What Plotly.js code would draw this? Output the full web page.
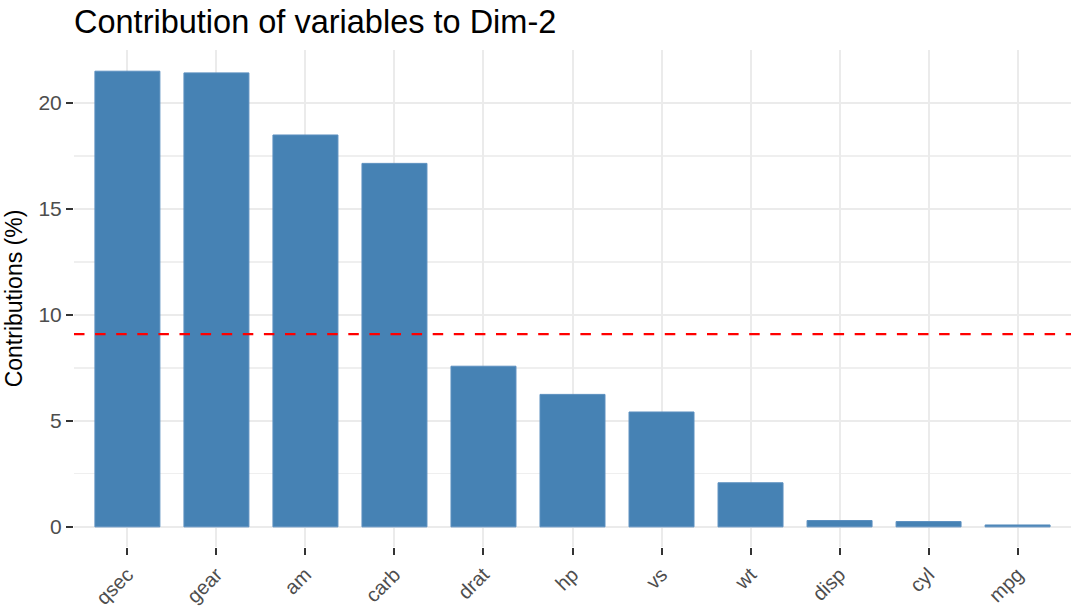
<!DOCTYPE html>
<html>
<head>
<meta charset="utf-8">
<script src="https://cdn.plot.ly/plotly-3.0.1.min.js"></script>
<style>html,body{margin:0;padding:0;background:#fff;}#chart{width:1080px;height:612px;}</style>
</head>
<body>
<div id="chart"></div>
<script>
const variables = ["qsec","gear","am","carb","drat","hp","vs","wt","disp","cyl","mpg"];
const contributions = [21.50, 21.42, 18.49, 17.15, 7.58, 6.25, 5.42, 2.08, 0.30, 0.25, 0.09];
const yTicks = [0, 5, 10, 15, 20];
const yMinorTicks = [2.5, 7.5, 12.5, 17.5, 22.5];
const expectedContribution = 100 / variables.length;

const trace = {
  type: "bar",
  x: variables,
  y: contributions,
  width: 0.73,
  marker: {color: "#4682B4", line: {color: "#5B8FBF", width: 1}},
  hoverinfo: "x+y"
};

const layout = {
  width: 1080, height: 612,
  margin: {l: 74, r: 9, t: 50, b: 65},
  paper_bgcolor: "#fff", plot_bgcolor: "#fff",
  font: {family: "Liberation Sans, Arial, sans-serif", color: "#4D4D4D"},
  title: {text: "Contribution of variables to Dim-2", x: 74/1080, xref: "container", xanchor: "left",
          y: 1 - 22/612, yanchor: "middle", yref: "container",
          font: {size: 32.5, color: "#000"}},
  showlegend: false,
  xaxis: {
    type: "category", categoryorder: "array", categoryarray: variables,
    range: [-0.6, 10.6],
    showgrid: true, gridcolor: "#EBEBEB", gridwidth: 2,
    ticks: "outside", ticklen: 7, tickwidth: 2, tickcolor: "#333",
    tickangle: -45, tickfont: {size: 20, color: "#4D4D4D"},
    showline: false, zeroline: false
  },
  yaxis: {
    range: [-0.95, 22.5],
    tickvals: yTicks,
    showgrid: true, gridcolor: "#EBEBEB", gridwidth: 2,
    minor: {tickvals: yMinorTicks, showgrid: true, gridcolor: "#EFEFEF", gridwidth: 1.2},
    ticks: "outside", ticklen: 7, tickwidth: 2, tickcolor: "#333",
    tickfont: {size: 21, color: "#4D4D4D"},
    zeroline: false, showline: false,
    title: {text: "Contributions (%)", font: {size: 23, color: "#000"}, standoff: 9}
  },
  shapes: [{
    type: "line", xref: "paper", x0: 0, x1: 1, yref: "y", y0: expectedContribution, y1: expectedContribution,
    line: {color: "#FF0000", width: 2.2, dash: "10.5px,10.6px"}
  }]
};

Plotly.newPlot("chart", [trace], layout, {displayModeBar: false, staticPlot: true});
</script>
</body>
</html>
